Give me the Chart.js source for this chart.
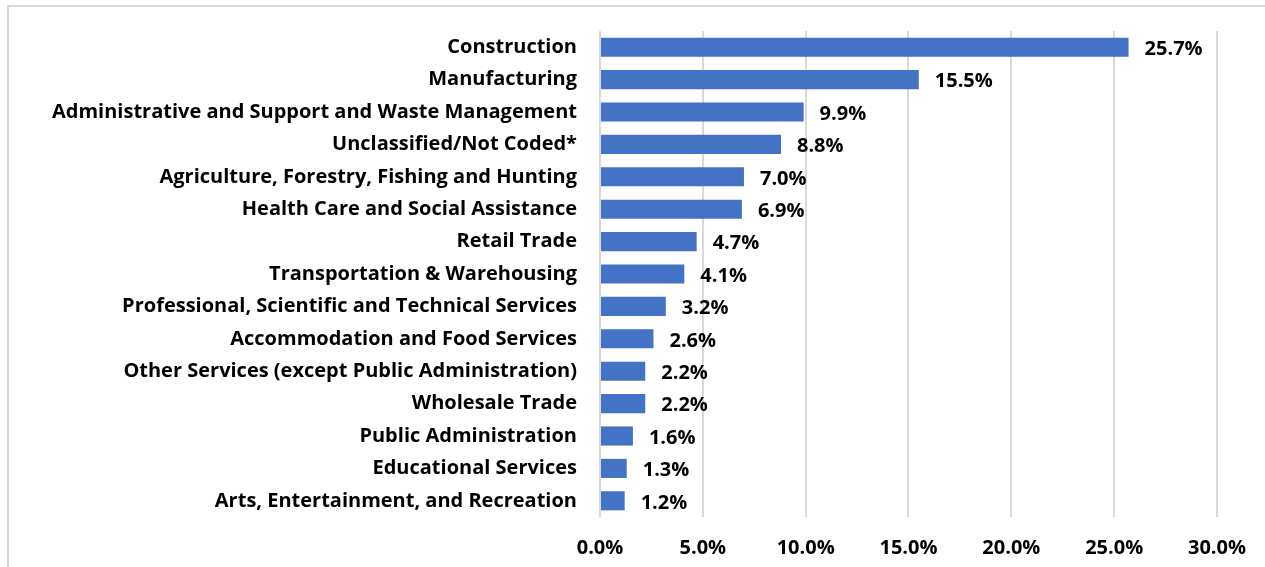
<!DOCTYPE html>
<html>
<head>
<meta charset="utf-8">
<script src="https://cdn.jsdelivr.net/npm/chart.js@4.4.1/dist/chart.umd.min.js"></script>
<style>
html, body { margin: 0; padding: 0; background: #fff; overflow: hidden; }
#frame { position: absolute; left: 7px; top: 5px; width: 1270px; height: 580px; border: 2px solid #d9d9d9; box-sizing: border-box; }
#wrap { position: absolute; left: 0; top: 0; width: 1265px; height: 567px; }
</style>
</head>
<body>
<div id="frame"></div>
<div id="wrap"><canvas id="barChart"></canvas></div>
<script>
// industries, largest share first
var categories = ["Construction", "Manufacturing", "Administrative and Support and Waste Management",
  "Unclassified/Not Coded*", "Agriculture, Forestry, Fishing and Hunting", "Health Care and Social Assistance",
  "Retail Trade", "Transportation & Warehousing", "Professional, Scientific and Technical Services",
  "Accommodation and Food Services", "Other Services (except Public Administration)", "Wholesale Trade",
  "Public Administration", "Educational Services", "Arts, Entertainment, and Recreation"];
var shares = [25.7, 15.5, 9.9, 8.8, 7.0, 6.9, 4.7, 4.1, 3.2, 2.6, 2.2, 2.2, 1.6, 1.3, 1.2];
var xTicks = [0, 5, 10, 15, 20, 25, 30];

var FONT = "'Open Sans', sans-serif";

// value labels at the end of each bar
var barLabels = {
  id: 'barLabels',
  afterDatasetsDraw: function(chart) {
    var ctx = chart.ctx;
    var meta = chart.getDatasetMeta(0);
    ctx.save();
    ctx.font = "bold 20px " + FONT;
    ctx.fillStyle = "#000";
    ctx.textAlign = "left";
    ctx.textBaseline = "middle";
    meta.data.forEach(function(bar, i) {
      ctx.fillText(shares[i].toFixed(1) + "%", bar.x + 16, bar.y + 2);
    });
    ctx.restore();
  }
};

var ctx = document.getElementById("barChart").getContext('2d');
var myBarChart = new Chart(ctx, {
  type: 'bar',
  data: {
    labels: categories,
    datasets: [{
      data: shares,
      backgroundColor: '#4472C4',
      borderWidth: 0,
      categoryPercentage: 1.0,
      barPercentage: 0.59
    }]
  },
  options: {
    indexAxis: 'y',
    responsive: true,
    maintainAspectRatio: false,
    animation: false,
    layout: { padding: { left: 0, right: 47, top: 31, bottom: 0 } },
    plugins: {
      legend: { display: false },
      tooltip: { enabled: false }
    },
    scales: {
      x: {
        min: 0,
        max: 30,
        afterBuildTicks: function(scale) {
          scale.ticks = xTicks.map(function(v) { return { value: v }; });
        },
        afterFit: function(scale) { scale.height = 50; },
        grid: { color: '#d9d9d9', lineWidth: 2, drawTicks: false },
        border: { display: false },
        ticks: {
          padding: 19,
          color: '#000',
          font: { family: FONT, size: 20, weight: 'bold' },
          callback: function(v) { return v.toFixed(1) + "%"; }
        }
      },
      y: {
        afterFit: function(scale) {
          scale.width = 600;
          scale.paddingTop = 0;
          scale.paddingBottom = 0;
        },
        grid: { display: false, drawTicks: false },
        border: { display: false },
        ticks: {
          padding: 23,
          color: '#000',
          autoSkip: false,
          font: { family: FONT, size: 20, weight: 'bold' }
        }
      }
    }
  },
  plugins: [barLabels]
});
</script>
</body>
</html>
